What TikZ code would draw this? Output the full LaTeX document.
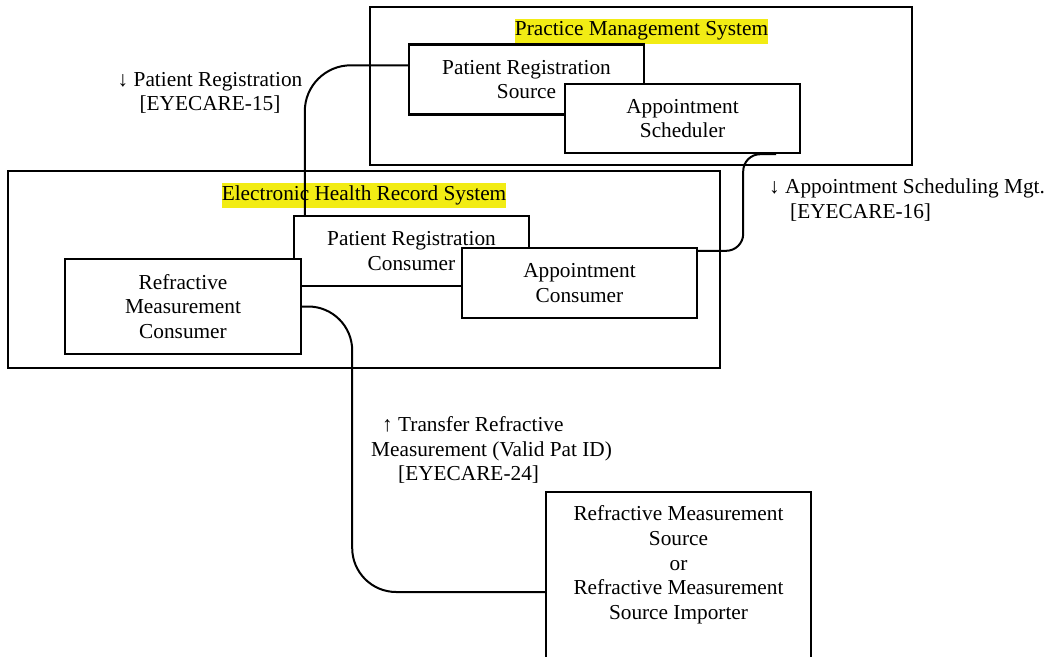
\documentclass[tikz,border=0pt]{standalone}
\usepackage{fontspec}
\setmainfont{Liberation Serif}
\usepackage{tikz}
\usetikzlibrary{calc}

\definecolor{hilite}{RGB}{242,236,20}

\begin{document}
\begin{tikzpicture}[x=1pt,y=-1pt,
	every node/.style={font=\fontsize{21.3}{24.7}\selectfont},
	sysbox/.style={draw,line width=2.4pt,inner sep=0pt},
	box/.style={draw,line width=2.4pt,fill=white,inner sep=0pt,align=center,minimum width=235pt,minimum height=70pt},
	title/.style={fill=hilite,inner xsep=0pt,inner ysep=0pt,minimum height=25pt},
	link/.style={line width=2pt}]
\useasboundingbox (0,0) rectangle (1046,656);

	\node[sysbox,minimum width=542pt,minimum height=158pt] (PMS) at (641,86) {};
	\node[sysbox,minimum width=712pt,minimum height=197pt] (EHR) at (364,269.5) {};
	\node[title] (pmsTitle) at (641.5,31) {Practice Management System};
	\node[title] (ehrTitle) at (364,195) {Electronic Health Record System};

	\node[box] (PRS) at (526.5,79.5) {Patient Registration\\Source};
	\node[box,minimum height=69pt] (AS) at (682.5,118.5) {Appointment\\Scheduler};

	\node[box] (PRC) at (411.5,251) {Patient Registration\\Consumer};
	\node[box,minimum width=236pt,minimum height=95pt] (RMC) at (183,306.5) {Refractive\\Measurement\\Consumer};
	\node[box] (AC) at (579.5,283) {Appointment\\Consumer};

	\node[box,minimum width=265pt,minimum height=200pt] (RMS) at (678.5,592) {};
	\node[align=center,inner sep=0pt] (rmsText) at (678.5,565) {Refractive Measurement\\Source\\or\\Refractive Measurement\\Source Importer};

	% connectors
	\coordinate (prsOut) at ($(PRS.north west)+(0,22)$);
	\coordinate (prcIn) at ($(PRC.north west)+(12,0)$);
	\draw[link,rounded corners=46pt] (prsOut) -| (prcIn);

	\coordinate (asOut) at ($(AS.south east)+(-25,0)$);
	\coordinate (acIn) at ($(AC.north east)+(0,4)$);
	\draw[link,rounded corners=17pt] (asOut) -- ++(-33,0) |- (acIn);

	\draw[link,rounded corners=44pt] (RMC.east) -- ++(50,0) |- (RMS.west);

	\node[align=center,inner sep=0pt] (prLabel) at (210,93) {↓ Patient Registration\\{}[EYECARE-15]};
	\node[anchor=west,align=left,inner sep=0pt] (asLabel) at (769,200) {↓ Appointment Scheduling Mgt.\\\hspace*{21pt}[EYECARE-16]};
	\node[anchor=west,align=left,inner sep=0pt] (rmLabel) at (371,450) {\hspace*{11pt}↑ Transfer Refractive\\Measurement (Valid Pat ID)\\\hspace*{27pt}[EYECARE-24]};
\end{tikzpicture}
\end{document}
